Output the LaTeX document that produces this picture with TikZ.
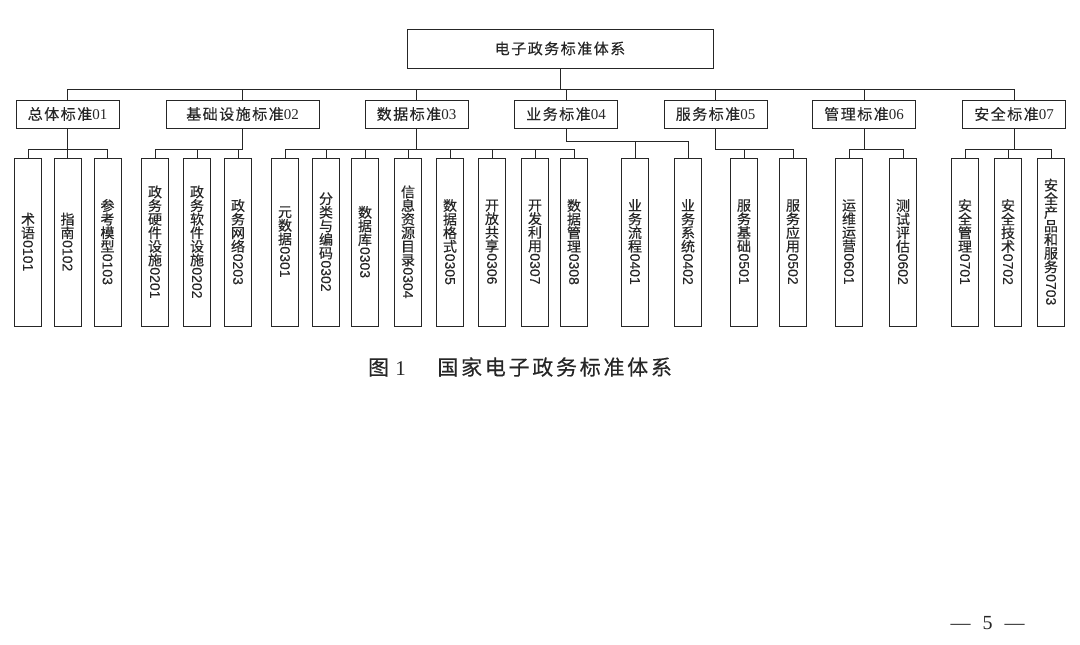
\documentclass[tikz,border=0pt]{standalone}
\usepackage{fontspec}
\usepackage{graphicx}
\setmainfont{Liberation Serif}
\setsansfont[FakeBold=0.2]{Liberation Sans}
\newfontfamily\cjk[FakeBold=0.3]{Noto Sans CJK SC}
\newfontfamily\cjkwide[LetterSpace=10,FakeBold=0.3]{Noto Sans CJK SC}
\newfontfamily\cjkcap[LetterSpace=13,FakeBold=0.3]{Noto Sans CJK SC}
\setlength{\lineskiplimit}{-20pt}
% vertical label: stacked characters, then the code turned clockwise
\newcommand\vt[2]{#1\\\raisebox{11.5pt}{\rotatebox{-90}{\sffamily #2}}}
\begin{document}
\begin{tikzpicture}[x=1pt,y=-1pt,line width=0.8pt,color=black!85,
    root/.style={draw,font=\cjkwide\fontsize{15}{17}\selectfont,minimum width=306pt,minimum height=39pt,inner sep=0pt},
    group/.style={draw,font=\cjkwide\fontsize{15}{17}\selectfont,minimum width=103pt,minimum height=28pt,inner sep=0pt},
    leaf/.style={draw,align=center,font=\cjk\fontsize{14}{13.6}\selectfont,minimum width=27pt,minimum height=168pt,inner sep=0pt},
    caption/.style={font=\cjkcap\fontsize{21}{24}\selectfont,inner sep=0pt},
    pageno/.style={font=\rmfamily\fontsize{20}{24}\selectfont,inner sep=0pt}]
  \useasboundingbox (0,0) rectangle (1080,645);
  \node[root] (00) at (560,48.5) {电子政务标准体系};
  \node[group] (01) at (67.5,114) {总体标准{\rmfamily 01}};
  \node[group,minimum width=153pt] (02) at (242.5,114) {基础设施标准{\rmfamily 02}};
  \node[group] (03) at (416.5,114) {数据标准{\rmfamily 03}};
  \node[group] (04) at (566,114) {业务标准{\rmfamily 04}};
  \node[group] (05) at (715.5,114) {服务标准{\rmfamily 05}};
  \node[group] (06) at (864,114) {管理标准{\rmfamily 06}};
  \node[group] (07) at (1014,114) {安全标准{\rmfamily 07}};
  % leaves
  \node[leaf] (0101) at (28,242) {\vt{术\\语}{0101}};
  \node[leaf] (0102) at (67.5,242) {\vt{指\\南}{0102}};
  \node[leaf] (0103) at (107.5,242) {\vt{参\\考\\模\\型}{0103}};
  \node[leaf] (0201) at (155,242) {\vt{政\\务\\硬\\件\\设\\施}{0201}};
  \node[leaf] (0202) at (197,242) {\vt{政\\务\\软\\件\\设\\施}{0202}};
  \node[leaf] (0203) at (238,242) {\vt{政\\务\\网\\络}{0203}};
  \node[leaf] (0301) at (285,242) {\vt{元\\数\\据}{0301}};
  \node[leaf] (0302) at (326,242) {\vt{分\\类\\与\\编\\码}{0302}};
  \node[leaf] (0303) at (365,242) {\vt{数\\据\\库}{0303}};
  \node[leaf] (0304) at (408,242) {\vt{信\\息\\资\\源\\目\\录}{0304}};
  \node[leaf] (0305) at (450,242) {\vt{数\\据\\格\\式}{0305}};
  \node[leaf] (0306) at (492,242) {\vt{开\\放\\共\\享}{0306}};
  \node[leaf] (0307) at (535,242) {\vt{开\\发\\利\\用}{0307}};
  \node[leaf] (0308) at (574,242) {\vt{数\\据\\管\\理}{0308}};
  \node[leaf] (0401) at (635,242) {\vt{业\\务\\流\\程}{0401}};
  \node[leaf] (0402) at (688,242) {\vt{业\\务\\系\\统}{0402}};
  \node[leaf] (0501) at (744,242) {\vt{服\\务\\基\\础}{0501}};
  \node[leaf] (0502) at (793,242) {\vt{服\\务\\应\\用}{0502}};
  \node[leaf] (0601) at (849,242) {\vt{运\\维\\运\\营}{0601}};
  \node[leaf] (0602) at (903,242) {\vt{测\\试\\评\\估}{0602}};
  \node[leaf] (0701) at (965,242) {\vt{安\\全\\管\\理}{0701}};
  \node[leaf] (0702) at (1008,242) {\vt{安\\全\\技\\术}{0702}};
  \node[leaf] (0703) at (1051,242) {\vt{安\\全\\产\\品\\和\\服\\务}{0703}};
  \node[caption] (cap) at (520,367) {图\hspace{0.3em}{\rmfamily 1}\hspace{1.5em}国家电子政务标准体系};
  \node[pageno] (page) at (987.5,623) {—\hspace{0.6em}5\hspace{0.6em}—};
  \begin{scope}
    \draw (00.south) -- ++(0,21) -| (01.north);
    \draw (00.south) -- ++(0,21) -| (02.north);
    \draw (00.south) -- ++(0,21) -| (03.north);
    \draw (00.south) -- ++(0,21) -| (04.north);
    \draw (00.south) -- ++(0,21) -| (05.north);
    \draw (00.south) -- ++(0,21) -| (06.north);
    \draw (00.south) -- ++(0,21) -| (07.north);
    \draw (01.south) -- ++(0,21) -| (0101.north);
    \draw (01.south) -- ++(0,21) -| (0102.north);
    \draw (01.south) -- ++(0,21) -| (0103.north);
    \draw (02.south) -- ++(0,21) -| (0201.north);
    \draw (02.south) -- ++(0,21) -| (0202.north);
    \draw (02.south) -- ++(0,21) -| (0203.north);
    \draw (03.south) -- ++(0,21) -| (0301.north);
    \draw (03.south) -- ++(0,21) -| (0302.north);
    \draw (03.south) -- ++(0,21) -| (0303.north);
    \draw (03.south) -- ++(0,21) -| (0304.north);
    \draw (03.south) -- ++(0,21) -| (0305.north);
    \draw (03.south) -- ++(0,21) -| (0306.north);
    \draw (03.south) -- ++(0,21) -| (0307.north);
    \draw (03.south) -- ++(0,21) -| (0308.north);
    \draw (04.south) -- ++(0,13) -| (0401.north);
    \draw (04.south) -- ++(0,13) -| (0402.north);
    \draw (05.south) -- ++(0,21) -| (0501.north);
    \draw (05.south) -- ++(0,21) -| (0502.north);
    \draw (06.south) -- ++(0,21) -| (0601.north);
    \draw (06.south) -- ++(0,21) -| (0602.north);
    \draw (07.south) -- ++(0,21) -| (0701.north);
    \draw (07.south) -- ++(0,21) -| (0702.north);
    \draw (07.south) -- ++(0,21) -| (0703.north);
  \end{scope}
\end{tikzpicture}
\end{document}
